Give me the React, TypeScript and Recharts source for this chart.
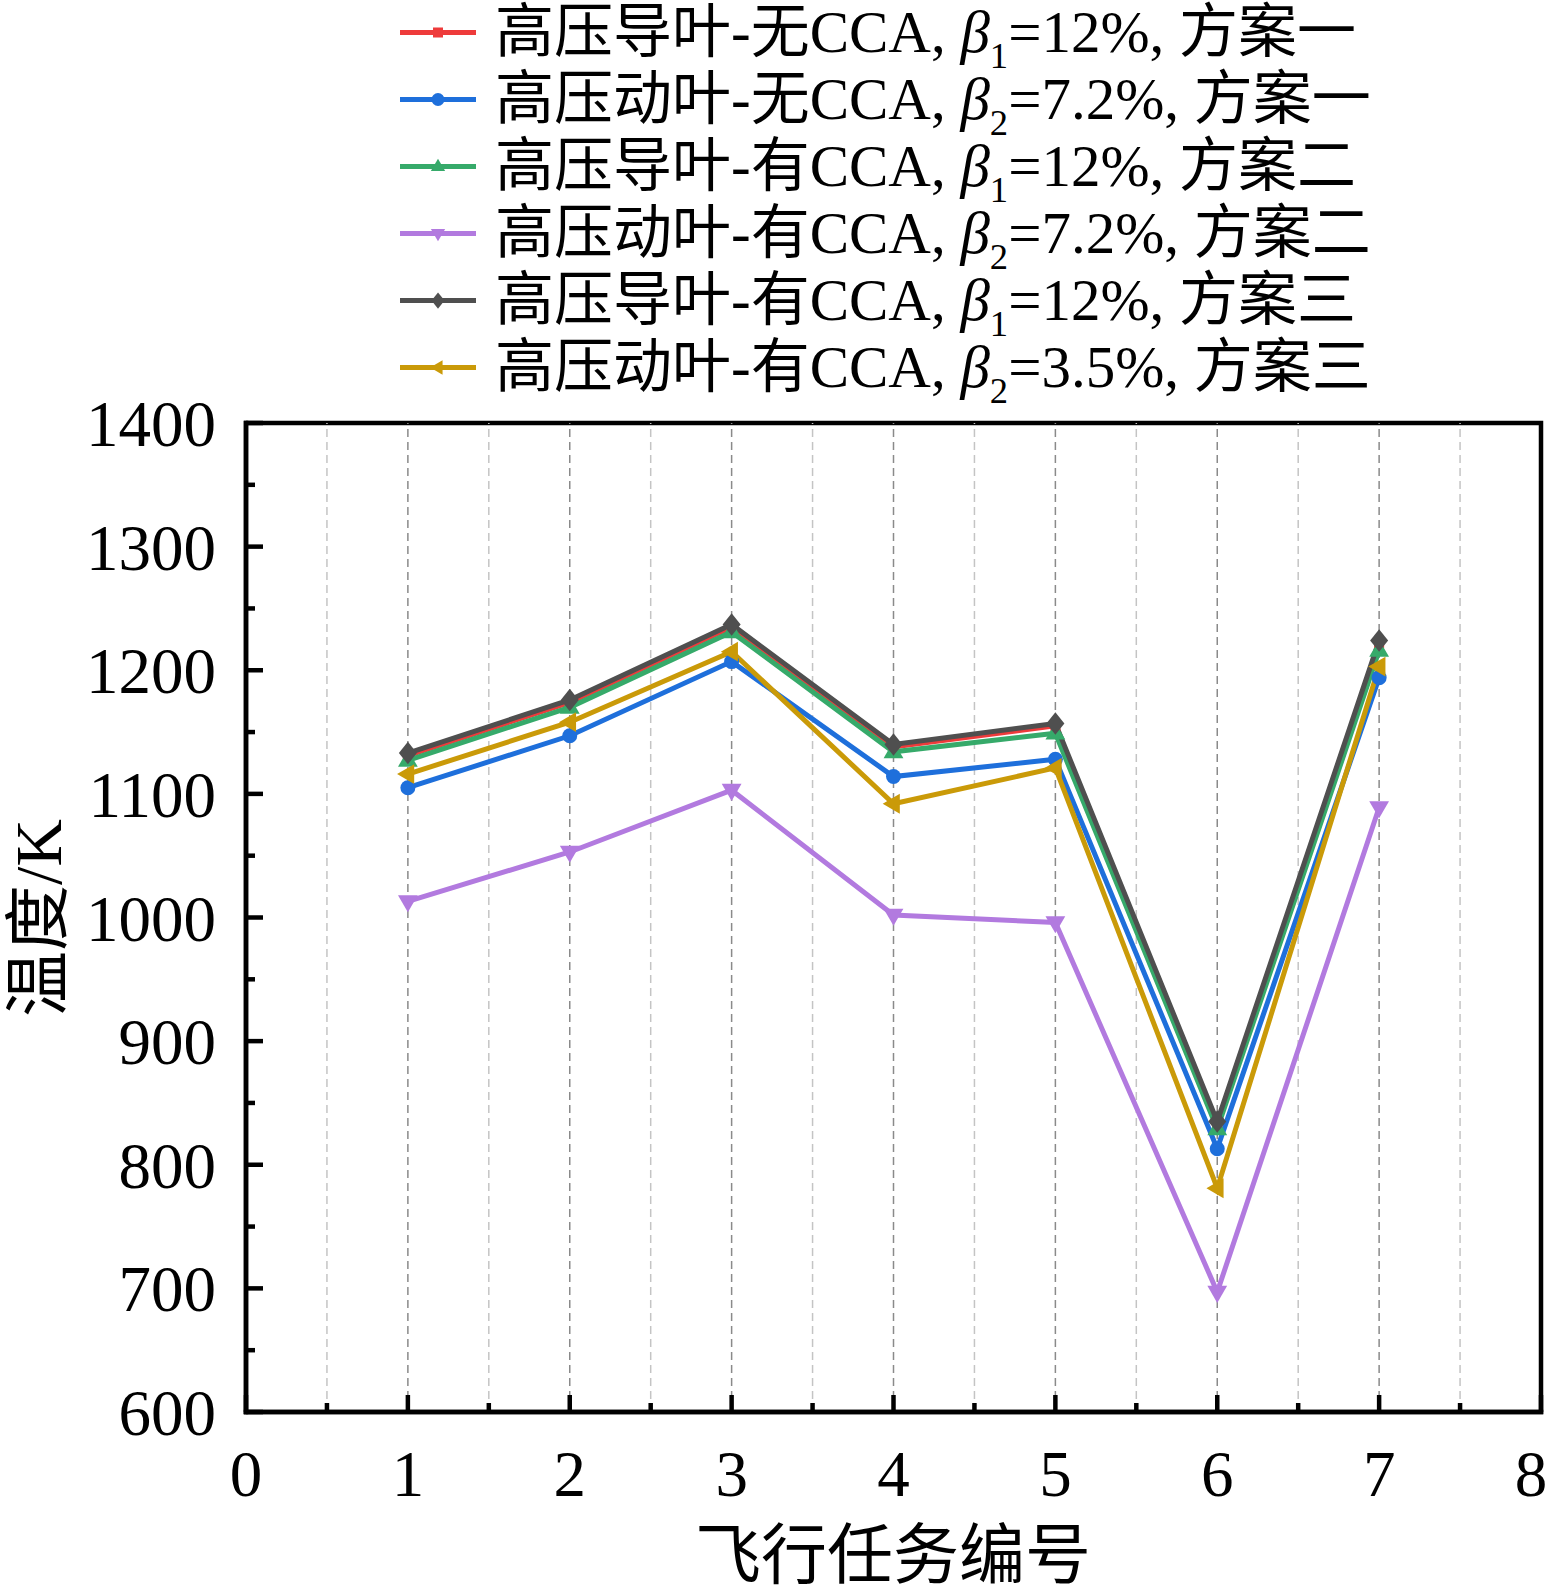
import React from "react";
import { LineChart, Line, XAxis, YAxis, ReferenceLine, ReferenceArea } from "recharts";

// 飞行任务编号
const tasks = [1, 2, 3, 4, 5, 6, 7];

// 温度/K
const vaneNoCca1 = [1131, 1174, 1235, 1138, 1155, 833, 1222];
const bladeNoCca1 = [1105, 1147, 1207, 1114, 1128, 813, 1194];
const vaneCca2 = [1127, 1170, 1231, 1134, 1149, 829, 1216];
const bladeCca2 = [1013, 1053, 1103, 1002, 996, 697, 1089];
const vaneCca3 = [1133, 1176, 1237, 1140, 1157, 835, 1224];
const bladeCca3 = [1116, 1158, 1215, 1092, 1121, 781, 1203];

const xTicks = [0, 0.5, 1, 1.5, 2, 2.5, 3, 3.5, 4, 4.5, 5, 5.5, 6, 6.5, 7, 7.5, 8];
const yTicks = [
  600, 650, 700, 750, 800, 850, 900, 950, 1000, 1050, 1100, 1150, 1200, 1250,
  1300, 1350, 1400,
];
const gridX = [0.5, 1, 1.5, 2, 2.5, 3, 3.5, 4, 4.5, 5, 5.5, 6, 6.5, 7, 7.5];

type Shape = "square" | "circle" | "up" | "down" | "diamond" | "left";

type Series = {
  key: string;
  values: number[];
  color: string;
  shape: Shape;
  head: string;
  sub: string;
  tail: string;
};

const series: Series[] = [
  { key: "vaneNoCca1", values: vaneNoCca1, color: "#EE3B3B", shape: "square", head: "高压导叶-无CCA, ", sub: "1", tail: "=12%, 方案一" },
  { key: "bladeNoCca1", values: bladeNoCca1, color: "#1E6FDB", shape: "circle", head: "高压动叶-无CCA, ", sub: "2", tail: "=7.2%, 方案一" },
  { key: "vaneCca2", values: vaneCca2, color: "#36AA6A", shape: "up", head: "高压导叶-有CCA, ", sub: "1", tail: "=12%, 方案二" },
  { key: "bladeCca2", values: bladeCca2, color: "#B27ADF", shape: "down", head: "高压动叶-有CCA, ", sub: "2", tail: "=7.2%, 方案二" },
  { key: "vaneCca3", values: vaneCca3, color: "#4F4F4F", shape: "diamond", head: "高压导叶-有CCA, ", sub: "1", tail: "=12%, 方案三" },
  { key: "bladeCca3", values: bladeCca3, color: "#CA9A08", shape: "left", head: "高压动叶-有CCA, ", sub: "2", tail: "=3.5%, 方案三" },
];

const rows = tasks.map((x, i) => {
  const r: Record<string, number> = { x };
  series.forEach((s) => (r[s.key] = s.values[i]));
  return r;
});

const FONT = "'Liberation Serif', 'Times New Roman', 'Noto Sans CJK SC', serif";

function Marker({ cx, cy, shape, color, s }: { cx: number; cy: number; shape: Shape; color: string; s: number }) {
  switch (shape) {
    case "square":
      return <rect x={cx - s} y={cy - s} width={2 * s} height={2 * s} fill={color} />;
    case "circle":
      return <circle cx={cx} cy={cy} r={s} fill={color} />;
    case "up":
      return <polygon points={`${cx},${cy - s * 1.2} ${cx + s * 1.1},${cy + s * 0.7} ${cx - s * 1.1},${cy + s * 0.7}`} fill={color} />;
    case "down":
      return <polygon points={`${cx},${cy + s * 1.2} ${cx + s * 1.1},${cy - s * 0.7} ${cx - s * 1.1},${cy - s * 0.7}`} fill={color} />;
    case "left":
      return <polygon points={`${cx - s * 1.2},${cy} ${cx + s * 0.7},${cy - s * 1.1} ${cx + s * 0.7},${cy + s * 1.1}`} fill={color} />;
    default:
      return <polygon points={`${cx},${cy - s * 1.25} ${cx + s},${cy} ${cx},${cy + s * 1.25} ${cx - s},${cy}`} fill={color} />;
  }
}

function markerSize(shape: Shape) {
  if (shape === "square") return 5;
  if (shape === "circle") return 7.5;
  return 9;
}

function XTick(props: any) {
  const { x, y, payload } = props;
  const v = payload.value;
  const major = Number.isInteger(v);
  // the last label is pulled in so it stays inside the page, as in the source
  const lx = v === 8 ? x - 10 : x;
  return (
    <g>
      <line x1={x} x2={x} y1={y} y2={y - (major ? 17 : 9)} stroke="#000" strokeWidth={4.5} />
      {major && (
        <text x={lx} y={y + 84} textAnchor="middle" fontFamily={FONT} fontSize={65} fill="#000">
          {v}
        </text>
      )}
    </g>
  );
}

function YTick(props: any) {
  const { x, y, payload } = props;
  const v = payload.value;
  const major = v % 100 === 0;
  return (
    <g>
      <line x1={x} x2={x + (major ? 17 : 9)} y1={y} y2={y} stroke="#000" strokeWidth={4.5} />
      {major && (
        <text x={x - 30} y={y + 23} textAnchor="end" fontFamily={FONT} fontSize={65} fill="#000">
          {v}
        </text>
      )}
    </g>
  );
}

const frame = { stroke: "#000", strokeWidth: 4.5, strokeLinecap: "square" as const };

export default function App() {
  return (
    <div style={{ position: "absolute", left: 0, top: 0, width: 1549, height: 1590, background: "#fff", fontFamily: FONT }}>
      <LineChart width={1549} height={1590} data={rows} margin={{ top: 423, right: 8, left: 0, bottom: 0 }}>
        <XAxis
          dataKey="x"
          type="number"
          domain={[0, 8]}
          ticks={xTicks}
          interval={0}
          height={178}
          tickSize={0}
          tickMargin={0}
          tickLine={false}
          tick={<XTick />}
          axisLine={frame}
        />
        <YAxis
          type="number"
          domain={[600, 1400]}
          ticks={yTicks}
          interval={0}
          width={246}
          tickSize={0}
          tickMargin={0}
          tickLine={false}
          tick={<YTick />}
          axisLine={frame}
        />
        {gridX.map((g) => (
          <ReferenceLine
            key={g}
            x={g}
            stroke={Number.isInteger(g) ? "#8a8a8a" : "#c4c4c4"}
            strokeWidth={1.5}
            strokeDasharray="8 5"
          />
        ))}
        <ReferenceArea x1={0} x2={8} y1={600} y2={1400} fill="none" fillOpacity={0} stroke="#000" strokeWidth={4.5} />
        {series.map((s) => (
          <Line
            key={s.key}
            dataKey={s.key}
            type="linear"
            stroke={s.color}
            strokeWidth={5}
            isAnimationActive={false}
            activeDot={false}
            dot={(p: any) => (
              <Marker key={`${s.key}-${p.index}`} cx={p.cx} cy={p.cy} shape={s.shape} color={s.color} s={markerSize(s.shape)} />
            )}
          />
        ))}
      </LineChart>

      {/* legend */}
      <div style={{ position: "absolute", left: 400, top: -1 }}>
        {series.map((s) => (
          <div key={s.key} style={{ display: "flex", alignItems: "center", height: 67, whiteSpace: "nowrap" }}>
            <svg width={76} height={67}>
              <line x1={0} x2={76} y1={33.5} y2={33.5} stroke={s.color} strokeWidth={5} />
              <Marker cx={38} cy={33.5} shape={s.shape} color={s.color} s={s.shape === "square" ? 5 : 6.5} />
            </svg>
            <span style={{ marginLeft: 19, fontSize: 59, lineHeight: "67px", color: "#000" }}>
              {s.head}
              <i>β</i>
              <span style={{ fontSize: "0.62em", position: "relative", top: "0.45em", lineHeight: 0 }}>{s.sub}</span>
              {s.tail}
            </span>
          </div>
        ))}
      </div>

      {/* axis titles */}
      <div
        style={{
          position: "absolute",
          left: 39,
          top: 918,
          transform: "translate(-50%, -50%) rotate(-90deg)",
          fontSize: 66,
          whiteSpace: "nowrap",
          lineHeight: 1,
        }}
      >
        温度/K
      </div>
      <div
        style={{
          position: "absolute",
          left: 893,
          top: 1556,
          transform: "translate(-50%, -50%)",
          fontSize: 66,
          whiteSpace: "nowrap",
          lineHeight: 1,
        }}
      >
        飞行任务编号
      </div>
    </div>
  );
}
